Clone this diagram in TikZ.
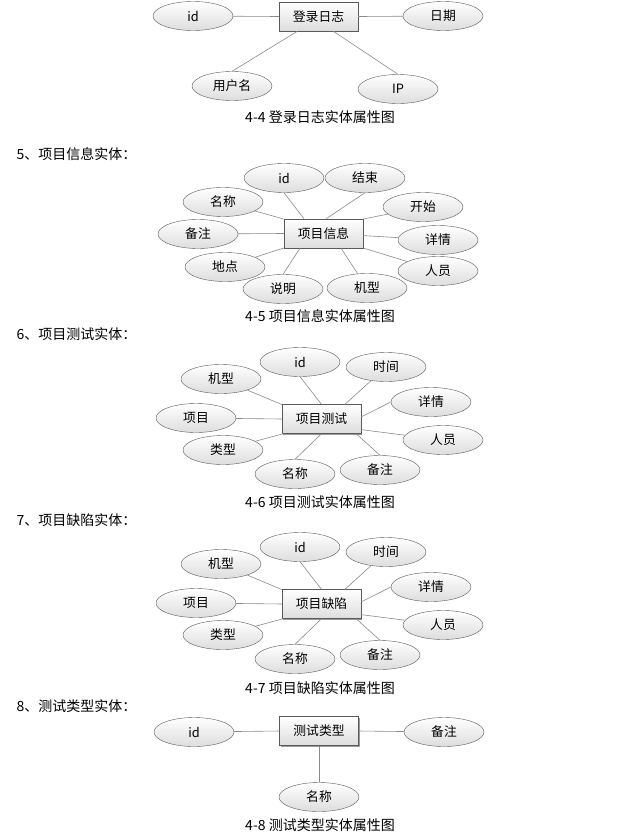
\documentclass[tikz,border=0pt]{standalone}
\usepackage{fontspec}
\setmainfont{Noto Sans CJK SC}
\usetikzlibrary{shapes.geometric,shadows,positioning}
\definecolor{edgegray}{HTML}{5A5A5A}
\definecolor{linkgray}{HTML}{8A8A8A}
\definecolor{shadebot}{HTML}{DDDDDD}
\definecolor{shadowgray}{HTML}{9A9A9A}

\begin{document}
\begin{tikzpicture}[x=1pt, y=-1pt,
  entity/.style={rectangle, draw=edgegray, top color=white, bottom color=shadebot, minimum width=79pt, minimum height=29pt, inner sep=0pt, font=\fontsize{12.8}{14}\selectfont, drop shadow={shadow xshift=1.2pt, shadow yshift=-1.2pt, fill=shadowgray, opacity=1}},
  attr/.style={ellipse, draw=edgegray, top color=white, bottom color=shadebot, minimum width=80pt, minimum height=29pt, inner sep=0pt, font=\fontsize{12.8}{14}\selectfont},
  link/.style={draw=linkgray, line width=0.6pt},
  caption/.style={font=\fontsize{14}{16}\selectfont},
  section/.style={anchor=west, font=\fontsize{14}{16}\selectfont}]
\useasboundingbox (0,0) rectangle (636,835);
% 4-4
\node[entity] (log) at (318.5,16.5) {登录日志};
\node[attr] (logid) at (193,16) {id};
\node[attr] (logdate) at (443,16) {日期};
\node[attr] (loguser) at (232,86) {用户名};
\node[attr] (logip) at (398,89) {IP};
\draw[link] (log.west) -- (logid);
\draw[link] (log.east) -- (logdate);
\draw[link] (log.215) -- (loguser.north);
\draw[link] (log.-45) -- (logip.north);
\node[caption] (cap44) at (320,117) {4-4 登录日志实体属性图};
% 4-5
\node[section] (sec5) at (13,154) {5、项目信息实体：};
\node[entity] (info) at (323.5,233.5) {项目信息};
\node[attr] (infoid) at (284,178) {id};
\node[attr] (infoend) at (365,178) {结束};
\node[attr] (infoname) at (223,202) {名称};
\node[attr] (infostart) at (423,207) {开始};
\node[attr] (infonote) at (198,234) {备注};
\node[attr] (infodetail) at (438,240) {详情};
\node[attr] (infoplace) at (225,267) {地点};
\node[attr] (infostaff) at (438,271) {人员};
\node[attr] (infodesc) at (283,289) {说明};
\node[attr] (infomodel) at (367,288) {机型};
\draw[link] (info.143) -- (infoid.south);
\draw[link] (info.80) -- (infoend.south);
\draw[link] (info.160) -- (infoname);
\draw[link] (info.20) -- (infostart);
\draw[link] (info.west) -- (infonote);
\draw[link] (info.-3) -- (infodetail);
\draw[link] (info.-20) -- (infostaff);
\draw[link] (info.200) -- (infoplace);
\draw[link] (info.212) -- (infodesc.north);
\draw[link] (info.-40) -- (infomodel);
\node[caption] (cap45) at (320,316) {4-5 项目信息实体属性图};
% 4-6
\node[section] (sec6) at (13,334) {6、项目测试实体：};
\node[entity] (test) at (321.5,419) {项目测试};
\node[attr] (testid) at (300,362) {id};
\node[attr] (testtime) at (386,367) {时间};
\node[attr] (testmodel) at (221,379) {机型};
\node[attr] (testdetail) at (431,402) {详情};
\node[attr] (testproj) at (196,418) {项目};
\node[attr] (teststaff) at (443,440) {人员};
\node[attr] (testtype) at (223,450) {类型};
\node[attr] (testname) at (295,474) {名称};
\node[attr] (testnote) at (380,470) {备注};
\draw[link] (test.160) -- (testmodel);
\draw[link] (test.north) -- (testid.south);
\draw[link] (test.32) -- (testtime);
\draw[link] (test.3) -- (testdetail.west);
\draw[link] (test.west) -- (testproj);
\draw[link] (test.-15) -- (teststaff);
\draw[link] (test.201) -- (testtype);
\draw[link] (test.south) -- (testname.north);
\draw[link] (test.-23) -- (testnote.north);
\node[caption] (cap46) at (320,502) {4-6 项目测试实体属性图};
% 4-7
\node[section] (sec7) at (13,520) {7、项目缺陷实体：};
\node[entity] (bug) at (321.5,604) {项目缺陷};
\node[attr] (bugid) at (300,547) {id};
\node[attr] (bugtime) at (386,552) {时间};
\node[attr] (bugmodel) at (221,564) {机型};
\node[attr] (bugdetail) at (431,587) {详情};
\node[attr] (bugproj) at (196,603) {项目};
\node[attr] (bugstaff) at (443,625) {人员};
\node[attr] (bugtype) at (223,635) {类型};
\node[attr] (bugname) at (295,659) {名称};
\node[attr] (bugnote) at (380,655) {备注};
\draw[link] (bug.160) -- (bugmodel);
\draw[link] (bug.north) -- (bugid.south);
\draw[link] (bug.32) -- (bugtime);
\draw[link] (bug.3) -- (bugdetail.west);
\draw[link] (bug.west) -- (bugproj);
\draw[link] (bug.-15) -- (bugstaff);
\draw[link] (bug.201) -- (bugtype);
\draw[link] (bug.south) -- (bugname.north);
\draw[link] (bug.-23) -- (bugnote.north);
\node[caption] (cap47) at (320,688) {4-7 项目缺陷实体属性图};
% 4-8
\node[section] (sec8) at (13,706) {8、测试类型实体：};
\node[entity] (kind) at (319,731) {测试类型};
\node[attr] (kindid) at (194,732) {id};
\node[attr] (kindnote) at (444,732) {备注};
\node[attr] (kindname) at (319,797) {名称};
\draw[link] (kind.west) -- (kindid);
\draw[link] (kind.east) -- (kindnote);
\draw[link] (kind.south) -- (kindname.north);
\node[caption] (cap48) at (320,825) {4-8 测试类型实体属性图};
\end{tikzpicture}
\end{document}
